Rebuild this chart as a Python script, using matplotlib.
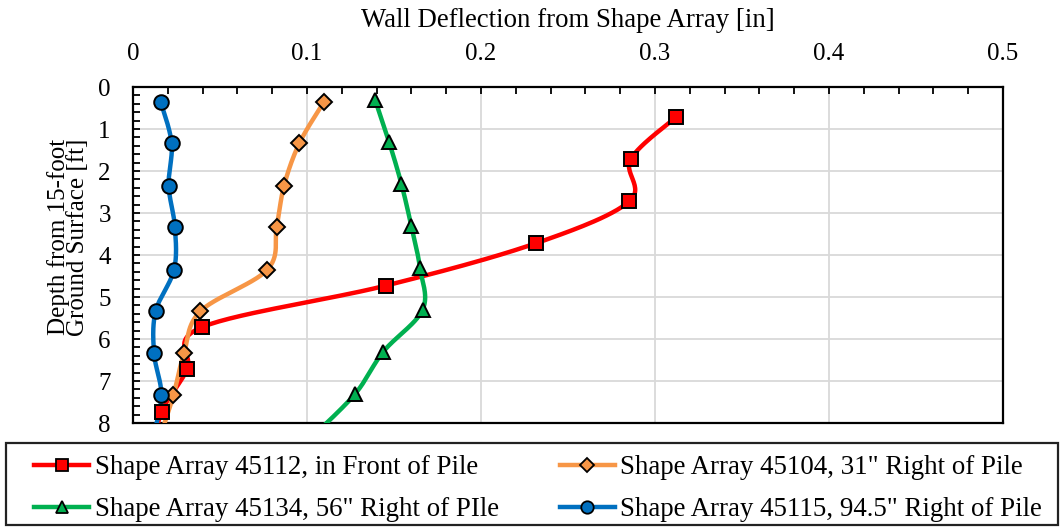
import numpy as np
import matplotlib
matplotlib.use("Agg")
import matplotlib.pyplot as plt
from matplotlib.ticker import MultipleLocator
from matplotlib.patches import Rectangle

plt.rcParams['font.family'] = ['Liberation Serif', 'DejaVu Serif']

# ---- data ----
red_depth = [0.72, 1.72, 2.72, 3.72, 4.73, 5.72, 6.72, 7.73, 8.72]
red_defl = [0.312, 0.286, 0.2853, 0.2316, 0.1452, 0.0395, 0.0312, 0.0165, 0.0110]

orange_depth = [0.35, 1.34, 2.35, 3.34, 4.35, 5.34, 6.34, 7.34, 8.34]
orange_defl = [0.1098, 0.0956, 0.0868, 0.0826, 0.0772, 0.0387, 0.0293, 0.0232, 0.0155]

green_depth = [0.30, 1.30, 2.30, 3.30, 4.30, 5.30, 6.30, 7.30, 8.30]
green_defl = [0.1391, 0.1471, 0.1542, 0.1599, 0.1649, 0.1665, 0.1439, 0.1278, 0.1037]

blue_depth = [0.35, 1.34, 2.35, 3.34, 4.35, 5.34, 6.34, 7.34, 8.34]
blue_defl = [0.0159, 0.0222, 0.0205, 0.0241, 0.0236, 0.0130, 0.0121, 0.0163, 0.0115]

labels = ['Shape Array 45112, in Front of Pile',
          'Shape Array 45104, 31" Right of Pile',
          'Shape Array 45134, 56" Right of PIle',
          'Shape Array 45115, 94.5" Right of Pile']

x_ticks = [0, 0.1, 0.2, 0.3, 0.4, 0.5]
x_ticklabels = ['0', '0.1', '0.2', '0.3', '0.4', '0.5']


def smooth(x, y, n=30):
    """Catmull-Rom smoothing (like Excel's smoothed line)."""
    p = np.column_stack([x, y]).astype(float)
    ext = np.vstack([p[0], p, p[-1]])
    out = []
    t = np.linspace(0, 1, n)
    for i in range(1, len(ext) - 2):
        p0, p1, p2, p3 = ext[i - 1], ext[i], ext[i + 1], ext[i + 2]
        c1 = p1 + (p2 - p0) / 6.0
        c2 = p2 - (p3 - p1) / 6.0
        seg = ((1 - t) ** 3)[:, None] * p1 + (3 * (1 - t) ** 2 * t)[:, None] * c1 \
            + (3 * (1 - t) * t ** 2)[:, None] * c2 + (t ** 3)[:, None] * p2
        out.append(seg if i == 1 else seg[1:])
    s = np.vstack(out)
    return s[:, 0], s[:, 1]


W, H = 1060, 527
fig = plt.figure(figsize=(W / 100, H / 100), dpi=100)
ax = fig.add_axes([133 / W, 1 - 423 / H, 870 / W, 336 / H])

series = [
    (red_defl, red_depth, '#FF0000', 's', 10),
    (orange_defl, orange_depth, '#F79646', 'D', 8),
    (green_defl, green_depth, '#00B050', '^', 10.5),
    (blue_defl, blue_depth, '#0070C0', 'o', 10.5),
]

handles = []
for (xv, yv, col, mk, ms), lab in zip(series, labels):
    sx, sy = smooth(xv, yv)
    ax.plot(sx, sy, color=col, lw=3.2, solid_capstyle='round', zorder=3)
    ax.plot(xv, yv, linestyle='none', marker=mk, markersize=ms,
            markerfacecolor=col, markeredgecolor='black', markeredgewidth=1.4, zorder=4)
    h, = ax.plot([], [], color=col, lw=3.2, marker=mk, markersize=ms * 0.85,
                 markerfacecolor=col, markeredgecolor='black', markeredgewidth=1.3)
    handles.append(h)

ax.set_xlim(0, 0.5)
ax.set_ylim(8, 0)
ax.xaxis.tick_top()
ax.xaxis.set_label_position('top')
ax.xaxis.set_minor_locator(MultipleLocator(0.02))
ax.yaxis.set_major_locator(MultipleLocator(1))
ax.yaxis.set_minor_locator(MultipleLocator(0.2))
ax.set_xticks(x_ticks)
ax.set_xticklabels(x_ticklabels)

ax.tick_params(axis='both', which='both', direction='in', length=5, width=1.3,
               colors='black', labelsize=18)
ax.tick_params(axis='x', which='both', top=True, bottom=False, pad=15.5)
ax.tick_params(axis='y', which='both', left=True, right=False, pad=16)

ax.grid(True, which='major', color='#D9D9D9', lw=1.3)
ax.set_axisbelow(True)
for sp in ax.spines.values():
    sp.set_linewidth(1.6)
    sp.set_color('black')

ax.set_xlabel('Wall Deflection from Shape Array [in]', fontsize=19.3, labelpad=12)
ax.set_ylabel('Depth from 15-foot\nGround Surface [ft]', fontsize=18,
              linespacing=0.85)
ax.yaxis.set_label_coords(-0.050, 1 - (237 - 87) / 336)

# legend frame drawn as figure patch
fig.patches.append(Rectangle((6 / W, 1 - 525 / H), 1052 / W, 82 / H,
                             transform=fig.transFigure, fill=False,
                             edgecolor='#222222', lw=1.6))

order = [0, 2, 1, 3]  # row-major appearance with column-major filling
leg = fig.legend(handles=[handles[i] for i in order],
                 labels=[labels[i] for i in order],
                 ncol=2, loc='center',
                 bbox_to_anchor=(34 / W, 1 - 509 / H, 1008 / W, 41 / H),
                 mode='expand', fontsize=19.4, frameon=False,
                 handlelength=2.05, handletextpad=0.2,
                 labelspacing=0.63, borderpad=0, borderaxespad=0)

fig.savefig('out.png', dpi=100)
